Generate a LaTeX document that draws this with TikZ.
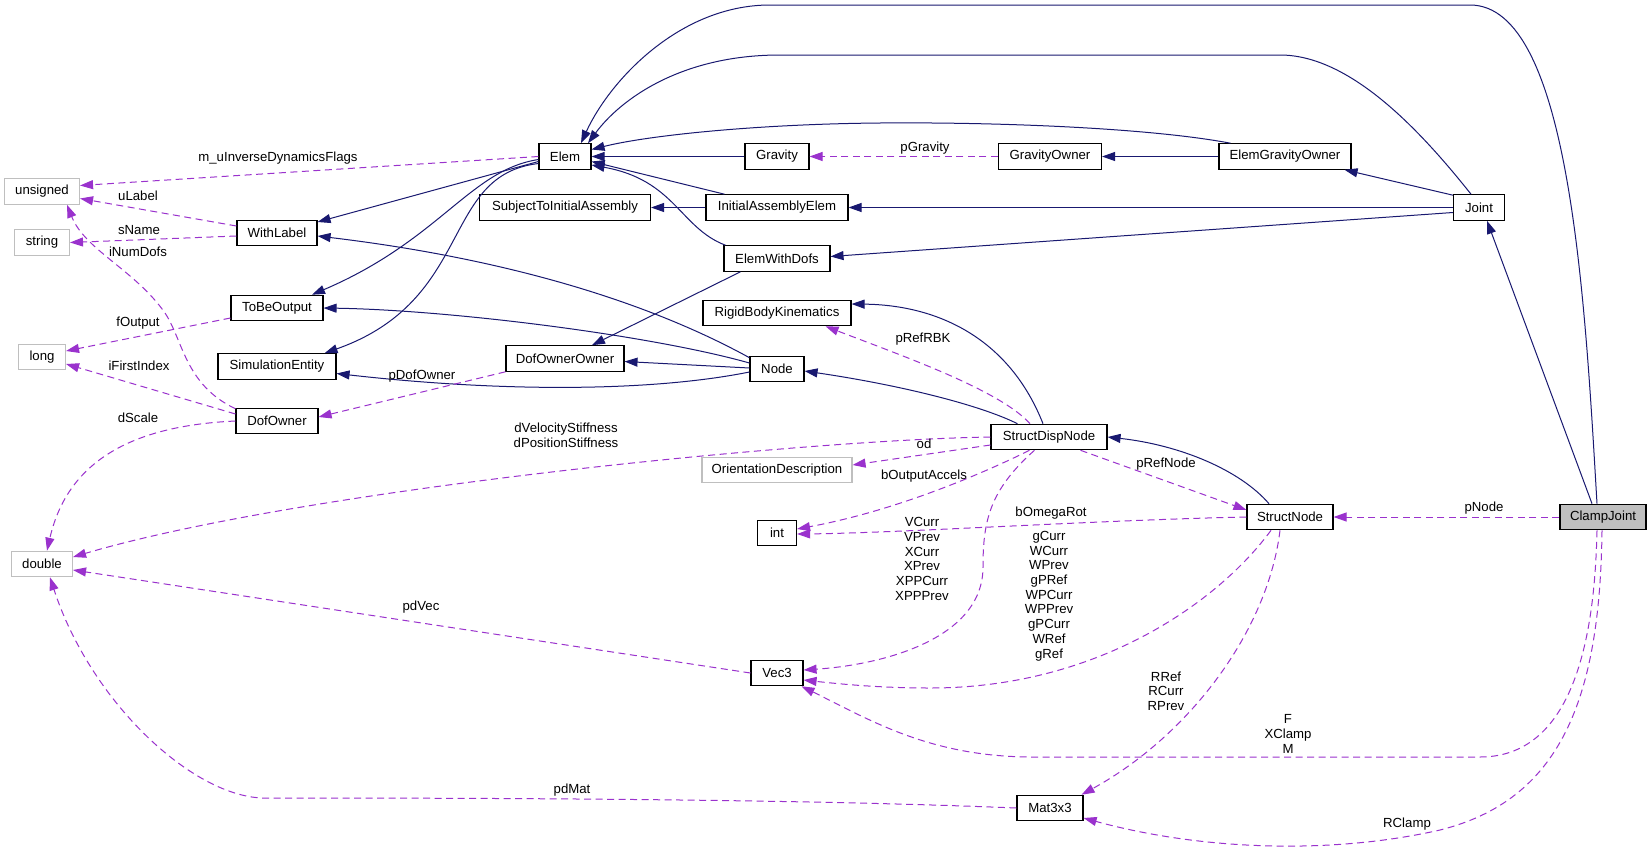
\documentclass[tikz,border=0pt]{standalone}
\usepackage{fontspec}
\setmainfont{Liberation Sans}
\usetikzlibrary{arrows.meta,calc}
\definecolor{inhc}{HTML}{191970}
\definecolor{usec}{HTML}{9A32CD}
\definecolor{greyb}{HTML}{BFBFBF}
\newcommand\fsz{\fontsize{13.2}{14.7}\selectfont}
\begin{document}
\begin{tikzpicture}[x=1pt,y=-1pt,
  cls/.style={draw=black, line width=1.1pt, fill=white, minimum height=25.5pt, minimum width=#1, inner sep=0pt, font=\fsz},
  extcls/.style={cls=#1, draw=greyb},
  lbl/.style={font=\fsz, inner sep=0pt, align=center},
  inhe/.style={draw=inhc, line width=1pt, -{Triangle[length=13pt,width=9pt]}},
  usee/.style={draw=usec, line width=1pt, dash pattern=on 7pt off 4.5pt, -{Triangle[length=13pt,width=9pt]}}]
\fill[white] (0,0) rectangle (1648,854);
\useasboundingbox (0,0) rectangle (1648,854);
% nodes
\node[cls=52pt] (elem) at (565,156.5) {Elem};
\node[cls=64pt] (gravity) at (777,156.5) {Gravity};
\node[cls=103pt] (gowner) at (1050,156.5) {GravityOwner};
\node[cls=132pt] (ego) at (1285,156.5) {ElemGravityOwner};
\node[cls=171pt] (subj) at (565,207.5) {SubjectToInitialAssembly};
\node[cls=142pt] (iae) at (777,207.5) {InitialAssemblyElem};
\node[cls=51pt] (joint) at (1479,207.5) {Joint};
\node[cls=106pt] (ewd) at (777,258.5) {ElemWithDofs};
\node[cls=148pt] (rbk) at (777,313) {RigidBodyKinematics};
\node[cls=118pt] (doo) at (565,358.5) {DofOwnerOwner};
\node[cls=54pt] (nd) at (777,369) {Node};
\node[cls=80pt] (wl) at (277,233) {WithLabel};
\node[extcls=75pt] (uns) at (42,191.5) {unsigned};
\node[extcls=55pt] (str) at (42,242.5) {string};
\node[cls=92pt] (tbo) at (277,308) {ToBeOutput};
\node[extcls=47pt] (lng) at (42,357) {long};
\node[cls=118pt] (sim) at (277,366.5) {SimulationEntity};
\node[cls=82pt] (dof) at (277,421) {DofOwner};
\node[extcls=61pt] (dbl) at (42,564) {double};
\node[cls=116pt] (sdn) at (1049,437) {StructDispNode};
\node[extcls=150pt] (ori) at (777,470) {OrientationDescription};
\node[cls=39pt] (int) at (777,533) {int};
\node[cls=52pt] (vec) at (777,673) {Vec3};
\node[cls=86pt] (sn) at (1290,517) {StructNode};
\node[cls=86pt, fill=greyb] (cj) at (1603,517) {ClampJoint};
\node[cls=66pt] (mat) at (1050,808) {Mat3x3};
% inheritance edges
\draw[inhe] (gravity.west) -- (elem.east);
\draw[inhe] ($(ego.north west)+(12,0)$) .. controls (1150,128) and (1000,122) .. (880,123) .. controls (760,124) and (650,135) .. ($(elem.east)+(0,-7)$);
\draw[inhe] ($(iae.north west)+(19,0)$) -- ($(elem.east)+(0,5)$);
\draw[inhe] ($(ewd.north west)+(2,0)$) .. controls (680,228) and (675,180) .. ($(elem.east)+(0,8.5)$);
\draw[inhe] ($(joint.north)+(-8,0)$) .. controls (1420,130) and (1350,55) .. (1280,55) -- (780,55) .. controls (680,55) and (620,100) .. ($(elem.north)+(23,0)$);
\draw[inhe] ($(cj.north)+(-6,0)$) .. controls (1585,300) and (1570,5) .. (1470,5) -- (770,5) .. controls (680,5) and (610,80) .. ($(elem.north)+(16,0)$);
\draw[inhe] ($(joint.north west)+(0,1)$) -- ($(ego.south east)+(-7,0)$);
\draw[inhe] (joint.west) -- (iae.east);
\draw[inhe] ($(joint.west)+(0,5)$) -- ($(ewd.east)+(0,-2)$);
\draw[inhe] ($(cj.north)+(-11,0)$) -- ($(joint.south)+(8,0)$);
\draw[inhe] (ego.west) -- (gowner.east);
\draw[inhe] (iae.west) -- (subj.east);
\draw[inhe] ($(ewd.south west)+(17,0)$) -- ($(doo.north)+(27,0)$);
\draw[inhe] ($(elem.west)+(0,5)$) -- ($(wl.east)+(0,-11)$);
\draw[inhe] ($(elem.west)+(0,3)$) .. controls (470,170) and (440,240) .. ($(tbo.north)+(35,0)$);
\draw[inhe] ($(elem.west)+(0,7)$) .. controls (440,175) and (475,300) .. ($(sim.north east)+(-12,0)$);
\draw[inhe] ($(nd.north west)+(0,2)$) .. controls (690,325) and (560,265) .. ($(wl.east)+(0,3)$);
\draw[inhe] ($(nd.west)+(0,-6)$) .. controls (650,335) and (450,310) .. (tbo.east);
\draw[inhe] ($(nd.west)+(0,-1)$) -- ($(doo.east)+(0,3)$);
\draw[inhe] ($(nd.west)+(0,3)$) .. controls (650,392) and (500,392) .. ($(sim.east)+(0,7)$);
\draw[inhe] ($(sdn.north west)+(27,0)$) .. controls (980,405) and (900,385) .. ($(nd.east)+(0,2)$);
\draw[inhe] ($(sdn.north)+(-6,0)$) .. controls (1010,340) and (940,305) .. ($(rbk.east)+(0,-9)$);
\draw[inhe] ($(sn.north)+(-21,0)$) .. controls (1240,470) and (1180,445) .. (sdn.east);
% usage edges
\draw[usee] (elem.west) -- ($(uns.east)+(0,-6)$);
\draw[usee] ($(wl.west)+(0,-7)$) -- ($(uns.east)+(0,7)$);
\draw[usee] ($(wl.west)+(0,3)$) -- (str.east);
\draw[usee] ($(dof.north west)+(0,1)$) .. controls (185,385) and (183,340) .. (165,313) .. controls (135,270) and (85,250) .. ($(uns.south)+(25,0)$);
\draw[usee] ($(tbo.west)+(0,10)$) -- ($(lng.east)+(0,-6)$);
\draw[usee] ($(dof.west)+(0,-7)$) -- ($(lng.east)+(0,7)$);
\draw[usee] (dof.west) .. controls (150,425) and (70,450) .. ($(dbl.north)+(5,0)$);
\draw[usee] (doo.south west) -- ($(dof.east)+(0,-4)$);
\draw[usee] (gowner.west) -- (gravity.east);
\draw[usee] ($(sdn.north)+(-19,0)$) .. controls (1000,390) and (900,355) .. ($(rbk.south east)+(-26,0)$);
\draw[usee] (sdn.west) .. controls (800,440) and (300,490) .. ($(dbl.east)+(0,-7)$);
\draw[usee] ($(sdn.west)+(0,8)$) -- ($(ori.east)+(0,-5)$);
\draw[usee] ($(sdn.south west)+(39,0)$) .. controls (990,470) and (900,510) .. ($(int.east)+(0,-4)$);
\draw[usee] (sn.west) .. controls (1100,520) and (900,533) .. ($(int.east)+(0,1)$);
\draw[usee] ($(sdn.south west)+(44,0)$) .. controls (990,490) and (983,520) .. (983,567) .. controls (983,640) and (880,665) .. ($(vec.east)+(0,-3)$);
\draw[usee] ($(sn.south)+(-19,0)$) .. controls (1220,600) and (1100,688) .. (930,688) .. controls (880,688) and (840,684) .. ($(vec.east)+(0,7)$);
\draw[usee] ($(sdn.south east)+(-27,0)$) -- ($(sn.west)+(0,-7)$);
\draw[usee] (cj.west) -- (sn.east);
\draw[usee] ($(sn.south)+(-10,0)$) .. controls (1268,630) and (1190,735) .. ($(mat.north east)+(-2,0)$);
\draw[usee] ($(cj.south)+(-6,0)$) .. controls (1595,620) and (1580,757) .. (1480,757) -- (1033,757) .. controls (930,757) and (870,720) .. ($(vec.south east)+(-2,0)$);
\draw[usee] ($(cj.south)+(-1,0)$) .. controls (1600,700) and (1560,800) .. (1440,830) .. controls (1330,855) and (1200,850) .. ($(mat.east)+(0,10)$);
\draw[usee] (vec.west) -- ($(dbl.east)+(0,6)$);
\draw[usee] (mat.west) .. controls (800,799) and (500,798) .. (262,798) .. controls (190,795) and (90,700) .. ($(dbl.south)+(8,0)$);
% labels
\node[lbl] (l1) at (278,158) {m\_uInverseDynamicsFlags};
\node[lbl] (l2) at (138,196) {uLabel};
\node[lbl] (l3) at (139,230) {sName};
\node[lbl] (l4) at (138,252) {iNumDofs};
\node[lbl] (l5) at (138,323) {fOutput};
\node[lbl] (l6) at (139,366) {iFirstIndex};
\node[lbl] (l7) at (138,418) {dScale};
\node[lbl] (l8) at (422,376) {pDofOwner};
\node[lbl] (l9) at (925,148) {pGravity};
\node[lbl] (l10) at (923,339) {pRefRBK};
\node[lbl] (l11) at (566,435.5) {dVelocityStiffness\\dPositionStiffness};
\node[lbl] (l12) at (924,444) {od};
\node[lbl] (l13) at (924,476) {bOutputAccels};
\node[lbl] (l14) at (1051,513) {bOmegaRot};
\node[lbl] (l15) at (922,559) {VCurr\\VPrev\\XCurr\\XPrev\\XPPCurr\\XPPPrev};
\node[lbl] (l16) at (1049,596) {gCurr\\WCurr\\WPrev\\gPRef\\WPCurr\\WPPrev\\gPCurr\\WRef\\gRef};
\node[lbl] (l17) at (1166,464) {pRefNode};
\node[lbl] (l18) at (1484,508) {pNode};
\node[lbl] (l19) at (1166,691) {RRef\\RCurr\\RPrev};
\node[lbl] (l20) at (1288,734) {F\\XClamp\\M};
\node[lbl] (l21) at (1407,824) {RClamp};
\node[lbl] (l22) at (421,607) {pdVec};
\node[lbl] (l23) at (572,790) {pdMat};
\end{tikzpicture}
\end{document}
